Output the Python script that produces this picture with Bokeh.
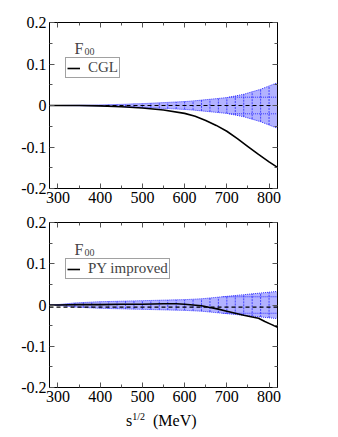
import numpy as np
from bokeh.plotting import figure
from bokeh.layouts import column
from bokeh.models import (LinearAxis, FixedTicker, CustomJSTickFormatter, Label,
                          Legend, LegendItem, Range1d, CustomLabelingPolicy, Div)
from bokeh.embed import file_html
from bokeh.resources import INLINE

# ---------------- data ----------------
band_x = [280, 300, 320, 340, 360, 380, 400, 420, 440, 460, 480, 500, 520, 540,
          560, 580, 600, 620, 640, 660, 680, 700, 720, 740, 760, 780, 800, 820]
cgl_err = [0.0, 0.0, 0.0003, 0.0005, 0.0008, 0.001, 0.0015, 0.002, 0.0025, 0.003,
           0.004, 0.0045, 0.0055, 0.0065, 0.0075, 0.0085, 0.0095, 0.011, 0.013,
           0.015, 0.017, 0.019, 0.023, 0.027, 0.033, 0.039, 0.047, 0.055]
py_err = [0.0, 0.001, 0.003, 0.005, 0.006, 0.007, 0.008, 0.0085, 0.009, 0.0095,
          0.01, 0.0105, 0.011, 0.0115, 0.012, 0.0125, 0.013, 0.014, 0.015, 0.017,
          0.019, 0.021, 0.023, 0.025, 0.027, 0.029, 0.031, 0.033]
cgl_center = 0.0
py_center = -0.005
pattern_level = 0.02

cgl_x = [280, 300, 350, 400, 450, 500, 550, 600, 625, 650, 675, 700, 725, 750,
         775, 800, 820]
cgl_y = [0.0, 0.0, 0.0, -0.001, -0.003, -0.006, -0.011, -0.019, -0.026, -0.036,
         -0.048, -0.062, -0.08, -0.099, -0.118, -0.136, -0.149]

py_x = [280, 300, 350, 400, 450, 500, 550, 580, 600, 620, 640, 660, 680, 700, 720,
        740, 760, 775, 790, 805, 820]
py_y = [0.0, 0.0, 0.001, 0.001, 0.002, 0.002, 0.003, 0.003, 0.002, 0.0, -0.002,
        -0.006, -0.01, -0.015, -0.02, -0.025, -0.029, -0.032, -0.04, -0.047, -0.054]

x_ticks = [300, 400, 500, 600, 700, 800]
x_minor = [350, 450, 550, 650, 750]
y_ticks = [-0.2, -0.1, 0.0, 0.1, 0.2]
y_minor = [-0.15, -0.05, 0.05, 0.15]
x_range = (280, 820)
y_range = (-0.2, 0.2)

SERIF = "Liberation Serif"


def make_panel(width, height, mb, curve_x, curve_y, err, center, label,
               legend_loc, f_pos):
    p = figure(width=width, height=height, output_backend="svg",
               toolbar_location=None, x_range=Range1d(*x_range),
               y_range=Range1d(*y_range), min_border_left=mb[0],
               min_border_right=mb[1], min_border_top=mb[2],
               min_border_bottom=mb[3])
    p.xaxis.visible = False
    p.yaxis.visible = False
    p.grid.visible = False
    p.outline_line_color = "black"
    p.outline_line_width = 1
    p.background_fill_color = "white"
    p.border_fill_color = "white"

    xt = FixedTicker(ticks=x_ticks, minor_ticks=x_minor)
    yt = FixedTicker(ticks=y_ticks, minor_ticks=y_minor)
    yfmt = CustomJSTickFormatter(code="return tick == 0 ? '0' : tick.toFixed(1);")
    for side, tick, lab in (("below", xt, True), ("above", xt, False),
                            ("left", yt, True), ("right", yt, False)):
        ax = LinearAxis(ticker=tick)
        ax.major_tick_in = 5
        ax.major_tick_out = 0
        ax.minor_tick_in = 3
        ax.minor_tick_out = 0
        ax.axis_line_color = "black"
        ax.major_tick_line_color = "#555555"
        ax.minor_tick_line_color = "#555555"
        if side in ("left", "right"):
            ax.formatter = yfmt
        ax.major_label_text_font = SERIF
        ax.major_label_text_font_size = "16px"
        ax.major_label_text_color = "black"
        if lab:
            ax.major_label_standoff = 3
        else:
            ax.major_label_standoff = 0
            ax.major_label_policy = CustomLabelingPolicy(
                code="for (const i of Array.from(indices)) { indices.unset(i) }\n"
                     "return indices")
        p.add_layout(ax, side)

    xs = np.array(band_x, dtype=float)
    e = np.array(err, dtype=float)
    p.varea(x=xs, y1=-e, y2=e, fill_color="#0000ff", fill_alpha=0.3)
    p.line(xs, e, line_color="#3333ff", line_dash="1 1", line_width=1)
    p.line(xs, -e, line_color="#3333ff", line_dash="1 1", line_width=1)
    p.segment(x0=xs, y0=-e, x1=xs, y1=e, line_color="#3333ff",
              line_dash="2 1", line_width=1, line_alpha=0.85)
    if e.max() > pattern_level:
        xc = float(np.interp(pattern_level, e, xs))
        for s in (1, -1):
            p.segment(x0=[xc], y0=[s * pattern_level], x1=[xs[-1]],
                      y1=[s * pattern_level], line_color="#3333ff",
                      line_dash="1 1", line_width=1)
    p.line([x_range[0], x_range[1]], [center, center], line_color="black",
           line_dash="4 3", line_width=1.2)
    r = p.line(curve_x, curve_y, line_color="black", line_width=1.6)

    leg = Legend(items=[LegendItem(label=label, renderers=[r])],
                 location=legend_loc, orientation="vertical")
    leg.label_text_font = SERIF
    leg.label_text_font_size = "15px"
    leg.label_text_line_height = 1.0
    leg.label_height = 12
    leg.glyph_height = 12
    leg.glyph_width = 13
    leg.label_standoff = 8
    leg.padding = 1
    leg.margin = 0
    leg.border_line_color = "#444444"
    leg.border_line_width = 1
    leg.background_fill_alpha = 1
    p.add_layout(leg, "center")

    p.add_layout(Label(x=x_range[0], y=y_range[1], x_offset=f_pos[0],
                       y_offset=f_pos[1], text="F", text_font=SERIF,
                       text_font_size="16px", text_baseline="alphabetic",
                       level="overlay"))
    p.add_layout(Label(x=x_range[0], y=y_range[1], x_offset=f_pos[0] + 10,
                       y_offset=f_pos[1] - 3, text="00", text_font=SERIF,
                       text_font_size="10px", text_baseline="alphabetic",
                       level="overlay"))
    return p


p1 = make_panel(330, 208, (49, 51, 22, 20), cgl_x, cgl_y, cgl_err, cgl_center,
                "CGL", (16, 110), (25, -26))
p2 = make_panel(330, 200, (49, 53, 10, 21), py_x, py_y, py_err, py_center,
                "PY improved", (16, 108), (25, -27))

title = Div(text='s<sup style="font-size:10px;">1/2</sup>&nbsp;&nbsp;(MeV)',
            width=200, height=20, margin=0,
            styles={"font-family": "Liberation Serif", "font-size": "16px",
                    "line-height": "16px", "margin-left": "126px",
                    "margin-top": "1px", "color": "black"})

layout = column(p1, p2, title, spacing=0)
open("out.html", "w").write(file_html(layout, INLINE))
